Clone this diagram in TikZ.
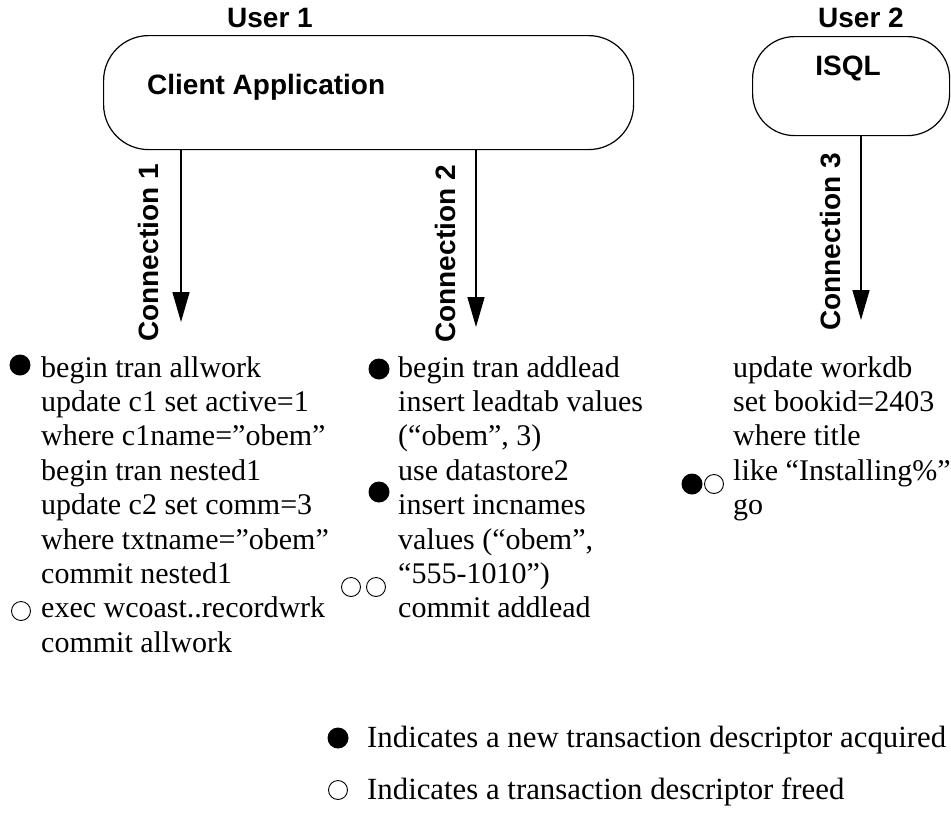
\documentclass[tikz,border=0pt]{standalone}
\usepackage{fontspec}
\setmainfont{Liberation Serif}
\setsansfont{Liberation Sans}
\usetikzlibrary{arrows.meta}
\begin{document}
\begin{tikzpicture}[x=1pt,y=-1pt,
  lbl/.style={font=\sffamily\bfseries\fontsize{28}{32}\selectfont, inner sep=0},
  code/.style={font=\fontsize{30}{34.5}\selectfont, inner sep=0, anchor=base west},
  legend/.style={code, font=\fontsize{30.8}{35}\selectfont},
  box/.style={draw, line width=1.2pt, rounded corners=45pt, anchor=north west},
  conn/.style={line width=1.5pt, -{Triangle[width=17pt,length=30pt]}},
  full/.style={circle, fill, inner sep=0, minimum size=21pt},
  empty/.style={circle, draw, line width=0.9pt, inner sep=0, minimum size=19pt}]
\useasboundingbox (0,0) rectangle (951,817);

% boxes
\node[box, minimum width=530pt, minimum height=114pt] (app) at (103,35) {};
\node[lbl, anchor=base west] (apptxt) at (147,94) {Client Application};
\node[box, rounded corners=42pt, minimum width=197pt, minimum height=99pt] (isql) at (752,36) {};
\node[lbl, anchor=base] (isqltxt) at (848,75) {ISQL};
\node[lbl, anchor=base] (u1) at (270,27) {User 1};
\node[lbl, anchor=base] (u2) at (861,27) {User 2};

% connections
\coordinate (t1) at (181,322);
\coordinate (t2) at (476,327);
\coordinate (t3) at (861,320);
\draw[conn] (app.south -| t1) -- (t1);
\draw[conn] (app.south -| t2) -- (t2);
\draw[conn] (isql.south -| t3) -- (t3);
\node[lbl, rotate=90] (c1) at (148,253) {Connection 1};
\node[lbl, rotate=90] (c2) at (445,254) {Connection 2};
\node[lbl, rotate=90] (c3) at (831,242) {Connection 3};

% code blocks
\foreach \t [count=\i] in {begin tran allwork, update c1 set active=1,
  where c1name=”obem”, begin tran nested1, update c2 set comm=3,
  where txtname=”obem”, commit nested1, exec wcoast..recordwrk, commit allwork}
  \node[code] (a\i) at (41,{377+(\i-1)*34.4}) {\t};
\foreach \t [count=\i] in {begin tran addlead, insert leadtab values,
  {(“obem”, 3)}, use datastore2, insert incnames, {values (“obem”,},
  “555-1010”), commit addlead}
  \node[code] (b\i) at (398,{377+(\i-1)*34.4}) {\t};
\foreach \t [count=\i] in {update workdb, set bookid=2403, where title,
  like “Installing\%”, go}
  \node[code] (s\i) at (733,{377+(\i-1)*34.4}) {\t};

% descriptors
\node[full] (d1) at (20,365) {};
\node[empty] (e1) at (21,611) {};
\node[full] (d2) at (379,369) {};
\node[full] (d3) at (379,492) {};
\node[empty] (e2) at (351,587) {};
\node[empty] (e3) at (376,587) {};
\node[full] (d4) at (692,484) {};
\node[empty] (e4) at (714,484) {};

% legend
\node[full] (lf) at (338,738) {};
\node[legend] (l1) at (367,747) {Indicates a new transaction descriptor acquired};
\node[empty] (le) at (338,790) {};
\node[legend] (l2) at (367,799) {Indicates a transaction descriptor freed};
\end{tikzpicture}
\end{document}
